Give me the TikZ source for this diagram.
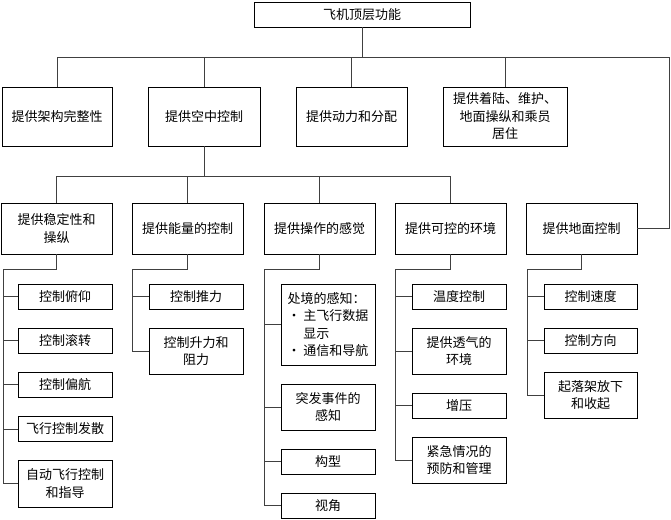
\documentclass[tikz,border=0pt]{standalone}
\usepackage{fontspec}
\setmainfont{Noto Sans CJK SC}

\begin{document}
\begin{tikzpicture}[x=1pt,y=-1pt,
		box/.style={draw=black,line width=0.9pt,align=center,inner sep=1pt,
			font=\fontsize{13}{17.5}\selectfont},
		item/.style={box,minimum width=94pt,minimum height=25pt},
		link/.style={draw=black!75,line width=0.7pt}]
		\useasboundingbox (0,0) rectangle (671,519);
		\node[box,minimum width=216pt,minimum height=25pt] (top) at (362,14.5) {飞机顶层功能};
		\begin{scope}[every node/.style={box,minimum height=59pt}]
			\node[minimum width=110pt] (frame) at (57,116.5) {提供架构完整性};
			\node[minimum width=112pt] (flight) at (204,116.5) {提供空中控制};
			\node[minimum width=111pt] (power) at (351.5,116.5) {提供动力和分配};
			\node[minimum width=124pt] (land) at (505,116.5) {提供着陆、维护、\\地面操纵和乘员\\居住};
		\end{scope}
		\begin{scope}[every node/.style={box,minimum width=111pt,minimum height=51pt}]
			\node (stab) at (56.5,228.5) {提供稳定性和\\操纵};
			\node (energy) at (187.5,228.5) {提供能量的控制};
			\node (sense) at (319.5,228.5) {提供操作的感觉};
			\node (env) at (450.5,228.5) {提供可控的环境};
			\node (gnd) at (581.5,228.5) {提供地面控制};
		\end{scope}
		\begin{scope}[every node/.style={item}]
			\node (pitch) at (65,296.5) {控制俯仰};
			\node (roll) at (65,340.5) {控制滚转};
			\node (yaw) at (65,384.5) {控制偏航};
			\node (diverge) at (65,429) {飞行控制发散};
			\node[minimum height=47pt] (auto) at (65,483.5) {自动飞行控制\\和指导};
			\node (thrust) at (196,296.5) {控制推力};
			\node[minimum height=46pt] (lift) at (196,351) {控制升力和\\阻力};
			\node[minimum height=81pt,align=left] (aware) at (328,324.5) {处境的感知：\\· 主飞行数据\\\phantom{· }显示\\· 通信和导航};
			\node[minimum height=46pt] (event) at (328,407) {突发事件的\\感知};
			\node (config) at (328,461.5) {构型};
			\node (view) at (328,505.5) {视角};
			\node (temp) at (459,296.5) {温度控制};
			\node[minimum height=46pt] (air) at (459,351) {提供透气的\\环境};
			\node (press) at (459,405.5) {增压};
			\node[minimum height=46pt] (emerg) at (459,460) {紧急情况的\\预防和管理};
			\node[minimum width=93pt] (speed) at (590.5,296.5) {控制速度};
			\node[minimum width=93pt] (dir) at (590.5,340.5) {控制方向};
			\node[minimum width=93pt,minimum height=46pt] (gear) at (590.5,395) {起落架放下\\和收起};
		\end{scope}
		\coordinate (rim) at (669,228.5);
		\coordinate (stabbus) at (3,269);
		\coordinate (energybus) at (132,269);
		\coordinate (sensebus) at (264,269);
		\coordinate (envbus) at (395,269);
		\coordinate (gndbus) at (527,269);
		\foreach \c in {frame,flight,power,land}
			\draw[link] (top.south) -- ++(0,30) -| (\c.north);
		\draw[link] (top.south) -- ++(0,30) -| (rim) -- (gnd.east);
		\foreach \c in {stab,energy,sense,env}
			\draw[link] (flight.south) -- ++(0,30) -| (\c.north);
		\foreach \p/\cs in {stab/{pitch,roll,yaw,diverge,auto},energy/{thrust,lift},
			sense/{aware,event,config,view},env/{temp,air,press,emerg},gnd/{speed,dir,gear}} {
			\draw[link] (\p.south) |- (\p bus);
			\foreach \c in \cs
				\draw[link] (\p bus) |- (\c.west);
		}
	\end{tikzpicture}
\end{document}
